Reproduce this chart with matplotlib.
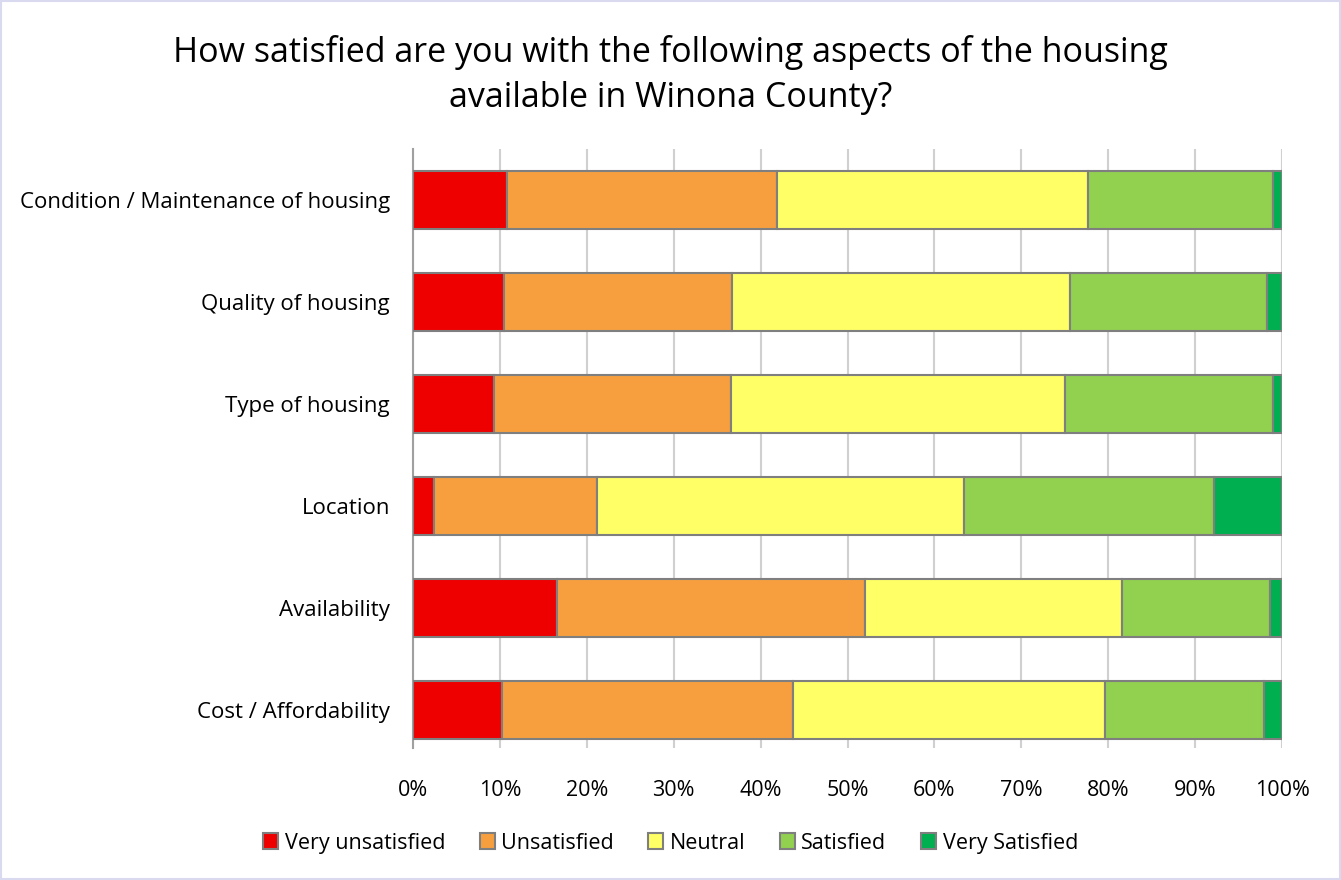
import numpy as np
import matplotlib
matplotlib.use('Agg')
import matplotlib.pyplot as plt
from matplotlib.patches import Rectangle

# data (percent of respondents)
categories = ['Condition / Maintenance of housing', 'Quality of housing', 'Type of housing',
              'Location', 'Availability', 'Cost / Affordability']
very_unsat = [10.8, 10.5, 9.3, 2.4, 16.6, 10.2]
unsat = [31.1, 26.2, 27.3, 18.8, 35.4, 33.5]
neutral = [35.8, 38.9, 38.4, 42.2, 29.6, 35.9]
satisfied = [21.3, 22.7, 24.0, 28.8, 17.0, 18.3]
very_sat = [1.0, 1.7, 1.0, 7.8, 1.4, 2.1]
series_names = ['Very unsatisfied', 'Unsatisfied', 'Neutral', 'Satisfied', 'Very Satisfied']
colors = ['#ee0000', '#f79f3f', '#ffff66', '#92d050', '#00b050']

plt.rcParams['font.family'] = ['Open Sans', 'DejaVu Sans']

fig = plt.figure(figsize=(13.41, 8.80), dpi=100)
ax = fig.add_axes([413/1341, 1-748/880, 869/1341, 599/880])

series = [very_unsat, unsat, neutral, satisfied, very_sat]
y = np.arange(len(categories))
left = np.zeros(len(categories))
for vals, name, c in zip(series, series_names, colors):
    vals = np.array(vals)
    ax.barh(y, vals, left=left, height=0.57, color=c, edgecolor='#7f7f7f',
            linewidth=1.5, label=name, zorder=3)
    left += vals

ax.set_xlim(0, 100)
ax.set_ylim(5.37, -0.5)
ax.set_xticks(np.arange(0, 101, 10))
ax.set_xticklabels([f'{v}%' for v in range(0, 101, 10)], fontsize=15.5)
ax.set_yticks(y)
ax.set_yticklabels(categories, fontsize=16)
ax.tick_params(length=0)
ax.tick_params(axis='y', pad=16.5)
ax.tick_params(axis='x', pad=23)
ax.grid(axis='x', color='#d0d0d0', linewidth=1.5, zorder=0)
for s in ['top', 'right', 'bottom']:
    ax.spines[s].set_visible(False)
ax.spines['left'].set_color('#a0a0a0')
ax.spines['left'].set_linewidth(1.5)

fig.text(0.5, 1-75/880,
         'How satisfied are you with the following aspects of the housing\navailable in Winona County?',
         ha='center', va='center', fontsize=24.5, linespacing=1.4)

ax.legend(loc='center', bbox_to_anchor=(0.5, 1-843/880), bbox_transform=fig.transFigure,
          ncol=5, frameon=False, fontsize=15.5, handlelength=0.7, handleheight=0.7,
          handletextpad=0.3, columnspacing=1.6)

fig.patches.append(Rectangle((0.001, 0.001), 0.998, 0.998, transform=fig.transFigure,
                             fill=False, edgecolor='#d9d9f0', linewidth=1.5))

fig.savefig('out.png', dpi=100)
